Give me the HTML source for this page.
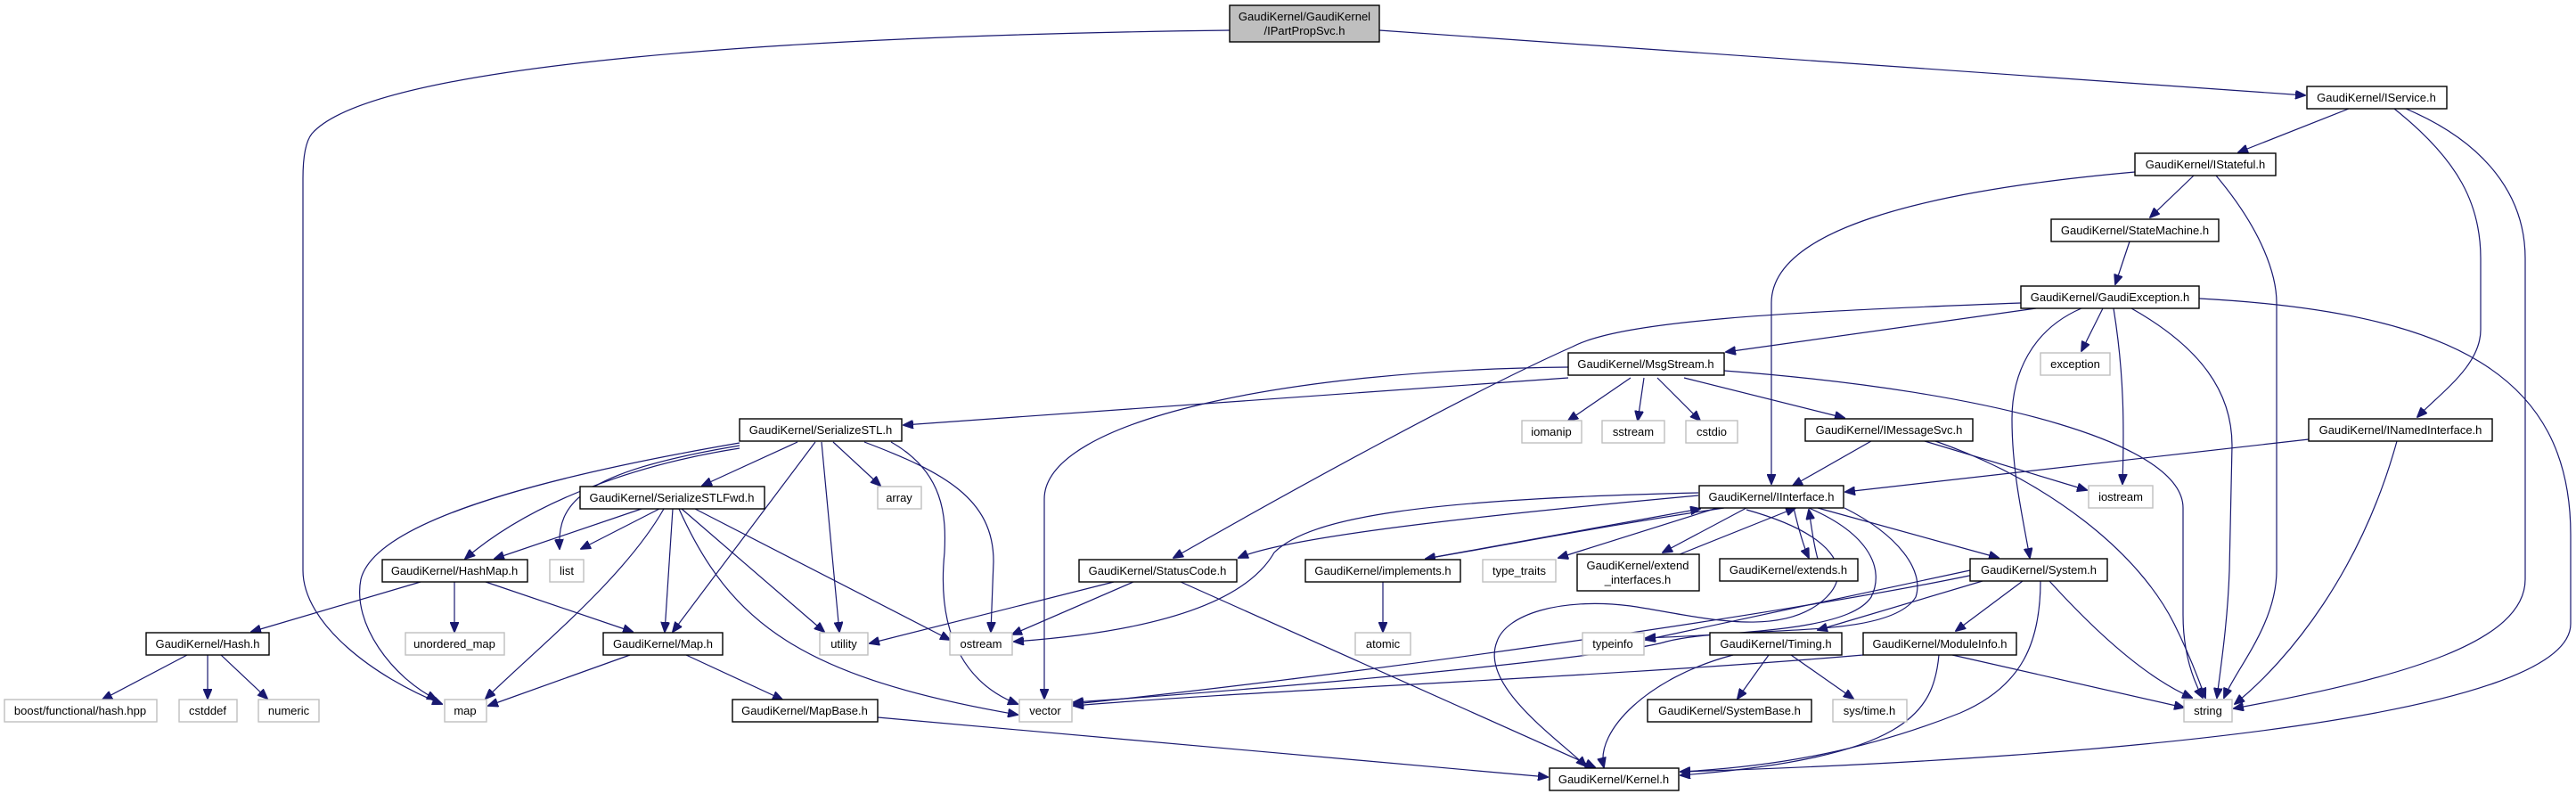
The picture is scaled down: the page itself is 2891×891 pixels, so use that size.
<!DOCTYPE html>
<html><head><meta charset="utf-8"><style>
html,body{margin:0;padding:0;background:#fff;}
svg{display:block;}
text{font-family:"Liberation Sans",sans-serif;font-size:13px;fill:#000;text-anchor:middle;}
.n{fill:#fff;stroke:#000;stroke-width:1.4;}
.x{fill:#fff;stroke:#bfbfbf;stroke-width:1.4;}
.r{fill:#bfbfbf;stroke:#000;stroke-width:1.4;}
path{fill:none;stroke:#191970;stroke-width:1.2;}
</style></head><body>
<svg width="2891" height="891" viewBox="0 0 2891 891" xmlns="http://www.w3.org/2000/svg">
<defs><marker id="a" markerWidth="12" markerHeight="10" refX="11" refY="5" orient="auto" markerUnits="userSpaceOnUse"><polygon points="0,0 12,5 0,10" fill="#191970" stroke="#191970"/></marker></defs>
<g marker-end="url(#a)">
<path d="M1380,34 C900,40 420,70 350,150 C342,160 340,180 340,200 L340,640 C340,700 420,760 496,790"/>
<path d="M1548,34 L2587,107"/>
<path d="M2636,122 L2512,171"/>
<path d="M2687,122 C2760,180 2784,230 2784,290 L2784,370 C2784,410 2740,440 2713,468"/>
<path d="M2700,122 C2790,160 2834,220 2834,290 L2834,650 C2834,720 2700,760 2507,795"/>
<path d="M2396,193 C2150,215 1988,260 1988,340 L1988,543"/>
<path d="M2462,197 L2413,244"/>
<path d="M2487,197 C2540,260 2555,310 2555,340 L2555,640 C2555,700 2510,750 2496,783"/>
<path d="M2390,271 L2374,319"/>
<path d="M2285,346 L1937,395"/>
<path d="M2268,340 C2000,350 1820,360 1765,389 C1650,440 1450,550 1317,626"/>
<path d="M2360,346 L2336,394"/>
<path d="M2372,346 C2384,420 2384,480 2382,543"/>
<path d="M2336,346 C2280,370 2258,420 2258,470 C2258,530 2270,580 2278,626"/>
<path d="M2392,346 C2470,390 2505,440 2505,500 L2502,640 C2500,700 2492,750 2488,783"/>
<path d="M2468,335 C2750,350 2885,420 2885,600 L2885,700 C2885,800 2400,850 1886,866"/>
<path d="M1760,424 L1014,477"/>
<path d="M1760,412 C1450,415 1172,470 1172,560 L1172,784"/>
<path d="M1830,424 L1760,472"/>
<path d="M1845,424 L1838,472"/>
<path d="M1860,424 L1908,472"/>
<path d="M1890,424 L2070,469"/>
<path d="M1935,416 C2250,440 2450,500 2450,570 L2450,690 C2450,740 2465,770 2472,783"/>
<path d="M895,496 L788,545"/>
<path d="M830,503 C720,520 600,560 522,627"/>
<path d="M830,500 C650,530 625,565 628,616"/>
<path d="M830,497 C580,540 420,590 405,650 C395,700 440,760 490,785"/>
<path d="M915,496 L755,709"/>
<path d="M935,496 L988,545"/>
<path d="M922,496 L942,709"/>
<path d="M970,496 C1060,530 1115,560 1115,630 L1112,709"/>
<path d="M1000,496 C1060,530 1062,580 1060,620 C1050,720 1090,770 1142,790"/>
<path d="M720,571 L555,627"/>
<path d="M740,571 L652,616"/>
<path d="M745,571 C700,650 600,730 545,784"/>
<path d="M755,571 L746,709"/>
<path d="M765,571 L925,709"/>
<path d="M780,571 L1066,718"/>
<path d="M762,571 C820,700 900,760 1142,802"/>
<path d="M472,653 L282,709"/>
<path d="M510,653 L510,709"/>
<path d="M545,653 L710,709"/>
<path d="M210,735 L115,785"/>
<path d="M233,735 L233,784"/>
<path d="M248,735 L300,784"/>
<path d="M707,735 L548,792"/>
<path d="M770,735 L878,785"/>
<path d="M985,805 L1737,872"/>
<path d="M1250,653 L976,722"/>
<path d="M1272,653 L1136,712"/>
<path d="M1325,653 L1790,861"/>
<path d="M1552,653 L1552,709"/>
<path d="M2100,495 L2012,545"/>
<path d="M2160,495 L2342,550"/>
<path d="M2172,495 C2300,540 2400,620 2440,700 C2460,740 2470,770 2475,783"/>
<path d="M2591,493 L2071,552"/>
<path d="M2690,495 C2650,640 2570,740 2508,790"/>
<path d="M1906,556 C1700,575 1450,600 1390,626"/>
<path d="M1906,553 C1600,560 1470,580 1430,620 C1390,690 1250,712 1138,720"/>
<path d="M1935,570 C1800,590 1700,610 1600,627"/>
<path d="M1927,570 L1749,626"/>
<path d="M1960,570 L1866,620"/>
<path d="M2013,570 C2020,600 2025,615 2030,626"/>
<path d="M2040,570 L2243,626"/>
<path d="M2030,570 C2100,600 2115,640 2100,670 C2080,700 2000,710 1847,716"/>
<path d="M2070,570 C2130,600 2160,640 2150,670 C2120,720 1950,700 1870,720 C1800,740 1400,775 1205,788"/>
<path d="M1960,572 C2060,600 2080,640 2050,670 C2000,720 1900,690 1830,680 C1750,670 1690,690 1680,720 C1660,770 1750,830 1780,860"/>
<path d="M1600,627 L1908,571"/>
<path d="M1885,622 L2015,570"/>
<path d="M2040,627 C2035,610 2033,590 2030,572"/>
<path d="M2211,640 L1847,718"/>
<path d="M2225,652 L2040,707"/>
<path d="M2270,652 L2195,708"/>
<path d="M2215,645 C2000,690 1500,760 1205,790"/>
<path d="M2290,652 C2290,720 2270,770 2200,800 C2100,840 2000,860 1886,866"/>
<path d="M2300,652 C2380,740 2430,770 2460,783"/>
<path d="M1985,735 L1950,784"/>
<path d="M2010,735 L2080,784"/>
<path d="M1945,735 C1850,760 1790,820 1800,861"/>
<path d="M2191,735 L2451,794"/>
<path d="M2091,735 C1800,760 1400,775 1205,792"/>
<path d="M2176,735 C2170,800 2140,850 1886,870"/>
</g>
<rect class="r" x="1380" y="6" width="168" height="41"/>
<text x="1464" y="23">GaudiKernel/GaudiKernel</text><text x="1464" y="39">/IPartPropSvc.h</text>
<g id="nodes">
<rect class="n" x="2589" y="97" width="157" height="25"/><text x="2667" y="114">GaudiKernel/IService.h</text>
<rect class="n" x="2396" y="172" width="158" height="25"/><text x="2475" y="189">GaudiKernel/IStateful.h</text>
<rect class="n" x="2302" y="246" width="188" height="25"/><text x="2396" y="263">GaudiKernel/StateMachine.h</text>
<rect class="n" x="2268" y="321" width="200" height="25"/><text x="2368" y="338">GaudiKernel/GaudiException.h</text>
<rect class="n" x="1760" y="396" width="175" height="25"/><text x="1847" y="413">GaudiKernel/MsgStream.h</text>
<rect class="x" x="2290" y="396" width="78" height="25"/><text x="2329" y="413">exception</text>
<rect class="n" x="830" y="470" width="182" height="25"/><text x="921" y="487">GaudiKernel/SerializeSTL.h</text>
<rect class="x" x="1708" y="472" width="67" height="25"/><text x="1741" y="489">iomanip</text>
<rect class="x" x="1798" y="472" width="70" height="25"/><text x="1833" y="489">sstream</text>
<rect class="x" x="1892" y="472" width="58" height="25"/><text x="1921" y="489">cstdio</text>
<rect class="n" x="2026" y="470" width="188" height="25"/><text x="2120" y="487">GaudiKernel/IMessageSvc.h</text>
<rect class="n" x="2591" y="470" width="206" height="25"/><text x="2694" y="487">GaudiKernel/INamedInterface.h</text>
<rect class="n" x="651" y="546" width="207" height="25"/><text x="754" y="563">GaudiKernel/SerializeSTLFwd.h</text>
<rect class="x" x="985" y="546" width="49" height="25"/><text x="1009" y="563">array</text>
<rect class="n" x="1907" y="545" width="162" height="25"/><text x="1988" y="562">GaudiKernel/IInterface.h</text>
<rect class="x" x="2344" y="545" width="72" height="25"/><text x="2380" y="562">iostream</text>
<rect class="n" x="429" y="628" width="163" height="25"/><text x="510" y="645">GaudiKernel/HashMap.h</text>
<rect class="x" x="617" y="628" width="38" height="25"/><text x="636" y="645">list</text>
<rect class="n" x="1211" y="628" width="177" height="25"/><text x="1299" y="645">GaudiKernel/StatusCode.h</text>
<rect class="n" x="1465" y="628" width="174" height="25"/><text x="1552" y="645">GaudiKernel/implements.h</text>
<rect class="x" x="1664" y="628" width="82" height="25"/><text x="1705" y="645">type_traits</text>
<rect class="n" x="1770" y="622" width="137" height="41"/><text x="1838" y="639">GaudiKernel/extend</text><text x="1838" y="655">_interfaces.h</text>
<rect class="n" x="1930" y="627" width="155" height="25"/><text x="2007" y="644">GaudiKernel/extends.h</text>
<rect class="n" x="2211" y="627" width="154" height="25"/><text x="2288" y="644">GaudiKernel/System.h</text>
<rect class="n" x="164" y="710" width="138" height="25"/><text x="233" y="727">GaudiKernel/Hash.h</text>
<rect class="x" x="455" y="710" width="111" height="25"/><text x="510" y="727">unordered_map</text>
<rect class="n" x="677" y="710" width="134" height="25"/><text x="744" y="727">GaudiKernel/Map.h</text>
<rect class="x" x="920" y="710" width="54" height="25"/><text x="947" y="727">utility</text>
<rect class="x" x="1066" y="710" width="70" height="25"/><text x="1101" y="727">ostream</text>
<rect class="x" x="1521" y="710" width="62" height="25"/><text x="1552" y="727">atomic</text>
<rect class="x" x="1776" y="710" width="69" height="25"/><text x="1810" y="727">typeinfo</text>
<rect class="n" x="1919" y="710" width="148" height="25"/><text x="1993" y="727">GaudiKernel/Timing.h</text>
<rect class="n" x="2091" y="710" width="172" height="25"/><text x="2177" y="727">GaudiKernel/ModuleInfo.h</text>
<rect class="x" x="5" y="785" width="171" height="25"/><text x="90" y="802">boost/functional/hash.hpp</text>
<rect class="x" x="201" y="785" width="65" height="25"/><text x="233" y="802">cstddef</text>
<rect class="x" x="290" y="785" width="68" height="25"/><text x="324" y="802">numeric</text>
<rect class="x" x="499" y="785" width="47" height="25"/><text x="522" y="802">map</text>
<rect class="n" x="822" y="785" width="163" height="25"/><text x="903" y="802">GaudiKernel/MapBase.h</text>
<rect class="x" x="1144" y="785" width="59" height="25"/><text x="1173" y="802">vector</text>
<rect class="n" x="1849" y="785" width="184" height="25"/><text x="1941" y="802">GaudiKernel/SystemBase.h</text>
<rect class="x" x="2057" y="785" width="83" height="25"/><text x="2098" y="802">sys/time.h</text>
<rect class="x" x="2451" y="785" width="54" height="25"/><text x="2478" y="802">string</text>
<rect class="n" x="1739" y="862" width="145" height="25"/><text x="1811" y="879">GaudiKernel/Kernel.h</text>
</g>
</svg>
</body></html>
